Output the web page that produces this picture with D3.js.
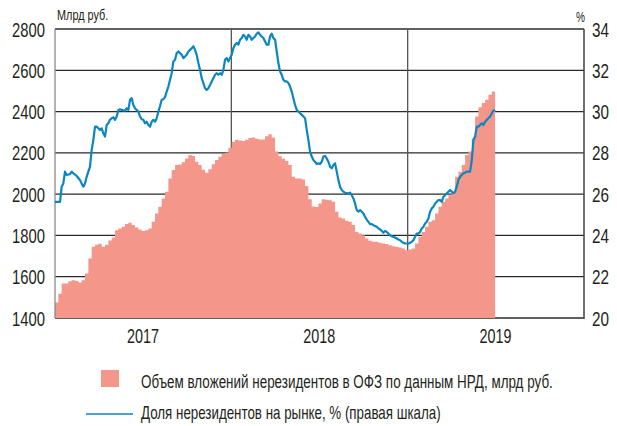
<!DOCTYPE html>
<html>
<head>
<meta charset="utf-8">
<script src="https://cdn.jsdelivr.net/npm/d3@7"></script>
<style>
  body { margin: 0; background: #fff; }
  svg text { font-family: "Liberation Sans", Arial, sans-serif; fill: #231f20; }
</style>
</head>
<body>
<div id="wrapper"></div>
<script>
// axis ticks
const years = [2017, 2018, 2019];
const leftTicks = [1400, 1600, 1800, 2000, 2200, 2400, 2600, 2800];
const rightTicks = [20, 22, 24, 26, 28, 30, 32, 34];

// observations are evenly spaced between these two dates
const firstDate = new Date(2017, 0, 1);
const lastDate = new Date(2019, 6, 1);

// Объем вложений нерезидентов в ОФЗ, млрд руб. (about weekly)
const holdings = [
  1470, 1475, 1518, 1567, 1567, 1578, 1583, 1580, 1572, 1583, 1615, 1688, 1745, 1755, 1760,
  1745, 1755, 1775, 1790, 1825, 1834, 1842, 1855, 1861, 1850, 1838, 1829, 1822, 1825, 1834,
  1866, 1906, 1939, 1979, 2012, 2076, 2117, 2141, 2143, 2155, 2173, 2190, 2185, 2157,
  2141, 2118, 2104, 2121, 2145, 2165, 2181, 2194, 2200, 2225, 2254, 2264, 2260, 2258, 2263,
  2272, 2274, 2268, 2265, 2265, 2280, 2290, 2275, 2206, 2184, 2171, 2161, 2141, 2084, 2076,
  2076, 2071, 2040, 1975, 1940, 1938, 1955, 1975, 1973, 1970, 1963, 1915, 1887,
  1882, 1871, 1866, 1850, 1817, 1809, 1801, 1785, 1774, 1769, 1769, 1764, 1761, 1758, 1753,
  1748, 1745, 1741, 1737, 1728, 1732, 1737, 1761, 1793, 1817, 1842, 1866, 1874, 1906, 1939,
  1963, 1979, 1995, 2012, 2084, 2109, 2141, 2190, 2206, 2270, 2376, 2421, 2441, 2457, 2481, 2497
];

// Доля нерезидентов на рынке, % (twice as dense)
const share = [
  25.63, 25.63, 25.63, 25.63, 26.36, 26.52, 27.09, 26.93, 26.95, 26.97, 27.09, 27.01, 26.95, 26.88, 26.78,
  26.68, 26.52, 26.36, 26.52, 26.84, 27.09, 27.33, 28.14, 28.62, 29.27, 29.27, 29.19, 29.11, 29.19, 28.95,
  28.79, 29.35, 29.43, 29.60, 29.68, 29.72, 29.60, 29.76, 30.08, 30.11, 30.08, 30.06, 30.05, 30.16, 30.08,
  30.57, 30.65, 30.32, 30.16, 30.08, 30.00, 29.76, 29.63, 29.60, 29.43, 29.51, 29.35, 29.27, 29.51, 29.60,
  29.51, 29.68, 30.00, 30.27, 30.57, 30.60, 30.70, 30.97, 31.21, 31.54, 31.86, 32.43, 32.51, 32.83, 32.91,
  32.83, 32.75, 32.59, 32.67, 32.75, 32.91, 32.99, 33.07, 33.16, 32.99, 32.75, 32.35, 32.02,
  31.62, 31.38, 31.13, 31.05, 31.13, 31.29, 31.46, 31.62, 31.78, 31.86, 31.78, 31.86, 31.78, 32.02, 32.51,
  32.59, 32.43, 32.59, 32.75, 33.07, 33.24, 33.32, 33.24, 33.48, 33.56, 33.72, 33.64, 33.48, 33.72, 33.64,
  33.48, 33.56, 33.64, 33.77, 33.84, 33.72, 33.64, 33.56, 33.40, 33.24, 33.24, 33.64, 33.77, 33.56, 33.48,
  32.91, 32.35, 31.94, 31.78, 31.54, 31.46, 31.46, 31.38, 31.21, 30.97, 30.65, 30.32, 30.08, 30.00, 29.92,
  29.84, 29.76, 29.68, 29.11, 28.62, 28.06, 27.82, 27.65, 27.57, 27.46, 27.49, 27.46, 27.57, 27.82, 27.85,
  27.73, 27.57, 27.33, 27.25, 27.41, 27.49, 27.09, 26.68, 26.36, 26.20, 26.12, 26.07,
  26.05, 26.04, 26.07, 25.95, 25.79, 25.55, 25.23, 25.15, 25.23, 25.15, 25.06, 24.90, 24.77, 24.66, 24.55,
  24.55, 24.50, 24.45, 24.42, 24.34, 24.29, 24.22, 24.13, 24.22, 24.17, 24.09, 24.01, 23.96, 23.93, 23.90,
  23.85, 23.80, 23.77, 23.69, 23.64, 23.61, 23.61, 23.61, 23.64, 23.69, 23.77, 23.93, 24.09, 24.09, 24.17,
  24.34, 24.42, 24.58, 24.66, 24.82, 25.15, 25.31, 25.39, 25.55, 25.63, 25.71, 25.71, 25.63, 25.87, 25.95,
  26.04, 26.12, 26.20, 26.12, 26.04, 26.12, 26.36, 26.68, 26.84, 26.93, 27.01, 27.04, 27.09, 27.09, 27.09,
  27.65, 28.62, 28.79, 29.27, 29.27, 29.35, 29.43, 29.35, 29.51, 29.60, 29.68, 29.76, 29.92, 30.05, 30.08
];

const legendLabels = [
  "Объем вложений нерезидентов в ОФЗ по данным НРД, млрд руб.",
  "Доля нерезидентов на рынке, % (правая шкала)"
];
const legendWidths = [412, 300];

const fillColor = "#f4978a";
const lineColor = "#0a86c0";
const gridColor = "#2b2b2b";

function spread(values) {
  const t = d3.scaleLinear().domain([0, values.length - 1]).range([+firstDate, +lastDate]);
  return values.map((v, i) => ({ date: new Date(t(i)), value: v }));
}

// the original uses a condensed face; squeeze a regular one horizontally to the same width
function squeeze(sel, widthFn) {
  sel.each(function (d, i) {
    const node = d3.select(this);
    const x = +node.attr("x") || 0;
    const y = +node.attr("y") || 0;
    const natural = this.getComputedTextLength();
    const k = natural > 0 ? widthFn(this.textContent, i) / natural : 1;
    node.attr("x", 0).attr("y", 0)
      .attr("transform", `translate(${x},${y}) scale(${k},1)`);
  });
}
const perChar = w => txt => txt.length * w;

function drawChart() {
  const dimensions = {
    width: 617,
    height: 426,
    margin: { top: 29, right: 33, bottom: 108, left: 55 },
  };
  dimensions.boundedWidth = dimensions.width - dimensions.margin.left - dimensions.margin.right;
  dimensions.boundedHeight = dimensions.height - dimensions.margin.top - dimensions.margin.bottom;

  const wrapper = d3.select("#wrapper")
    .append("svg")
    .attr("width", dimensions.width)
    .attr("height", dimensions.height);

  const bounds = wrapper.append("g")
    .attr("transform", `translate(${dimensions.margin.left},${dimensions.margin.top})`);

  const xScale = d3.scaleTime()
    .domain([new Date(2017, 0, 1), new Date(2020, 0, 1)])
    .range([0, dimensions.boundedWidth]);
  const yLeft = d3.scaleLinear()
    .domain([1400, 2800])
    .range([dimensions.boundedHeight, 0]);
  const yRight = d3.scaleLinear()
    .domain([20, 34])
    .range([dimensions.boundedHeight, 0]);

  // grid (sits behind the fill)
  const grid = bounds.append("g");
  grid.selectAll("line.h")
    .data(leftTicks)
    .join("line")
    .attr("class", "h")
    .attr("x1", 0)
    .attr("x2", dimensions.boundedWidth)
    .attr("y1", d => yLeft(d))
    .attr("y2", d => yLeft(d))
    .attr("stroke", gridColor)
    .attr("stroke-width", 1.3);
  grid.selectAll("line.v")
    .data(years.slice(1))
    .join("line")
    .attr("class", "v")
    .attr("x1", d => xScale(new Date(d, 0, 1)))
    .attr("x2", d => xScale(new Date(d, 0, 1)))
    .attr("y1", 0)
    .attr("y2", dimensions.boundedHeight)
    .attr("stroke", "#555")
    .attr("stroke-width", 1.3);

  // holdings area
  const area = d3.area()
    .x(d => xScale(d.date))
    .y0(yLeft(1400))
    .y1(d => yLeft(d.value))
    .curve(d3.curveStepBefore);
  bounds.append("path")
    .datum(spread(holdings))
    .attr("d", area)
    .attr("fill", fillColor);

  // frame sides
  bounds.append("line")
    .attr("x1", 0).attr("x2", 0)
    .attr("y1", 0).attr("y2", dimensions.boundedHeight)
    .attr("stroke", "#8a8a8a")
    .attr("stroke-width", 1.3);
  bounds.append("line")
    .attr("x1", dimensions.boundedWidth).attr("x2", dimensions.boundedWidth)
    .attr("y1", 0).attr("y2", dimensions.boundedHeight + 1)
    .attr("stroke", "#4a4a4a")
    .attr("stroke-width", 1.6);

  // share line
  const line = d3.line()
    .x(d => xScale(d.date))
    .y(d => yRight(d.value));
  bounds.append("path")
    .datum(spread(share))
    .attr("d", line)
    .attr("fill", "none")
    .attr("stroke", lineColor)
    .attr("stroke-width", 2.2)
    .attr("stroke-linejoin", "round");

  // tick labels
  bounds.append("g").selectAll("text")
    .data(leftTicks)
    .join("text")
    .attr("x", -10)
    .attr("y", d => yLeft(d))
    .attr("dy", "0.36em")
    .attr("text-anchor", "end")
    .attr("font-size", "21px")
    .text(d => d)
    .call(squeeze, perChar(8.25));
  bounds.append("g").selectAll("text")
    .data(rightTicks)
    .join("text")
    .attr("x", dimensions.boundedWidth + 8)
    .attr("y", d => yRight(d))
    .attr("dy", "0.36em")
    .attr("font-size", "21px")
    .text(d => d)
    .call(squeeze, perChar(8.5));
  bounds.append("g").selectAll("text")
    .data(years)
    .join("text")
    .attr("x", d => xScale(new Date(d, 6, 2)))
    .attr("y", dimensions.boundedHeight + 25)
    .attr("text-anchor", "middle")
    .attr("font-size", "21px")
    .text(d => d)
    .call(squeeze, perChar(8));

  bounds.append("text")
    .attr("x", 2)
    .attr("y", -9)
    .attr("font-size", "14px")
    .text("Млрд руб.")
    .call(squeeze, perChar(5.7));
  bounds.append("text")
    .attr("x", dimensions.boundedWidth + 1)
    .attr("y", -7)
    .attr("text-anchor", "end")
    .attr("font-size", "15px")
    .text("%")
    .call(squeeze, perChar(9));

  // legend
  const legend = wrapper.append("g");
  legend.append("rect")
    .attr("x", 101).attr("y", 370)
    .attr("width", 18).attr("height", 17)
    .attr("fill", fillColor);
  legend.append("line")
    .attr("x1", 86).attr("x2", 133)
    .attr("y1", 414).attr("y2", 414)
    .attr("stroke", lineColor)
    .attr("stroke-width", 1.6);
  legend.selectAll("text")
    .data(legendLabels)
    .join("text")
    .attr("x", 141)
    .attr("y", (d, i) => 388 + i * 31)
    .attr("font-size", "18px")
    .text(d => d)
    .call(squeeze, (txt, i) => legendWidths[i]);
}
drawChart();
</script>
</body>
</html>
